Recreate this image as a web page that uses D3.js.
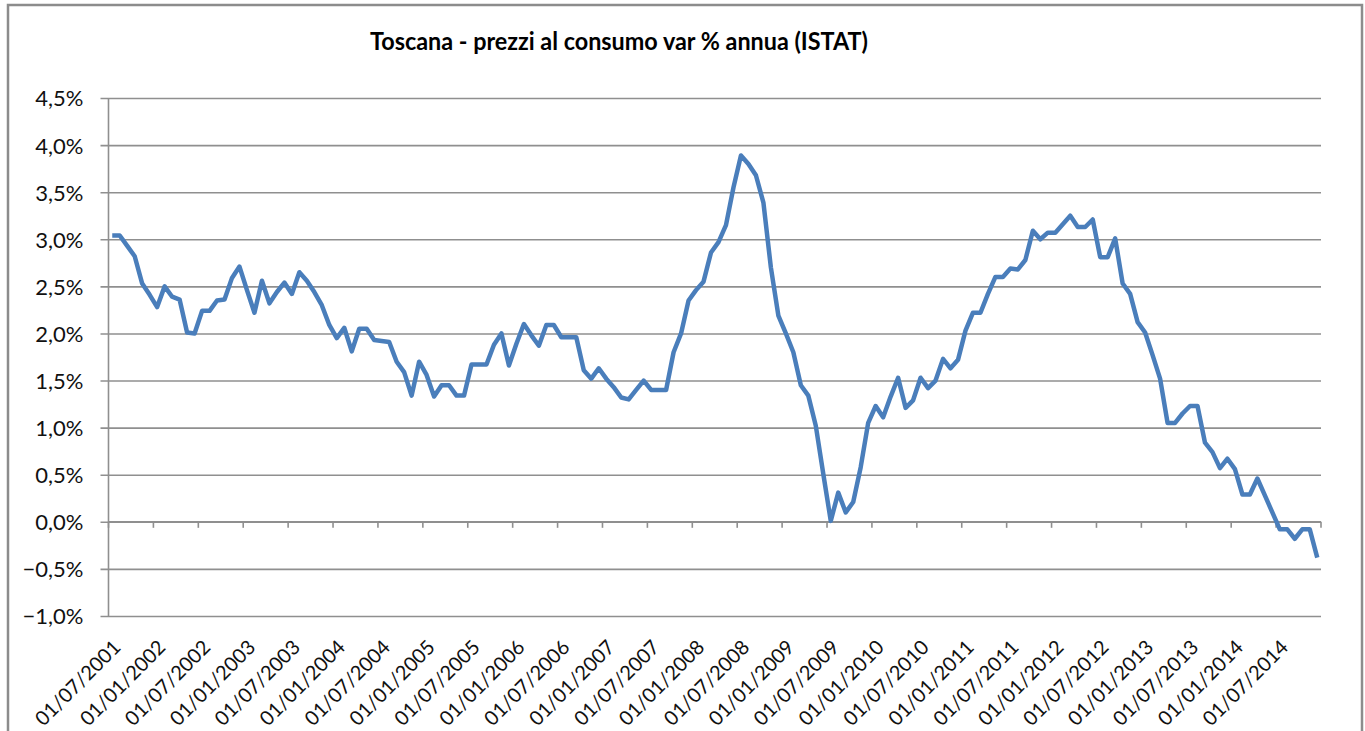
<!DOCTYPE html>
<html>
<head>
<meta charset="utf-8">
<script src="https://d3js.org/d3.v7.min.js"></script>
<style>
  html, body { margin: 0; padding: 0; background: #ffffff; }
  svg { display: block; }
</style>
</head>
<body>
<svg id="chart" width="1365" height="731"></svg>
<script>
// ---- DATA ----
const title = "Toscana  - prezzi al consumo var % annua (ISTAT)";

// monthly categories: 01/07/2001 ... 01/12/2014
const startYear = 2001, startMonth = 7, endYear = 2014, endMonth = 12;
const categories = [];
for (let y = startYear, m = startMonth; y < endYear || (y === endYear && m <= endMonth); ) {
  categories.push("01/" + String(m).padStart(2, "0") + "/" + y);
  m++; if (m > 12) { m = 1; y++; }
}

const tickLabels = [
  "01/07/2001","01/01/2002","01/07/2002","01/01/2003","01/07/2003","01/01/2004","01/07/2004",
  "01/01/2005","01/07/2005","01/01/2006","01/07/2006","01/01/2007","01/07/2007","01/01/2008",
  "01/07/2008","01/01/2009","01/07/2009","01/01/2010","01/07/2010","01/01/2011","01/07/2011",
  "01/01/2012","01/07/2012","01/01/2013","01/07/2013","01/01/2014","01/07/2014"
];

const values = [
  3.04, 3.04, 2.93, 2.82, 2.53, 2.41, 2.28, 2.50, 2.39, 2.36,
  2.01, 2.00, 2.24, 2.24, 2.35, 2.36, 2.59, 2.71, 2.46, 2.22,
  2.56, 2.32, 2.44, 2.54, 2.42, 2.65, 2.56, 2.44, 2.30, 2.09,
  1.95, 2.06, 1.81, 2.05, 2.05, 1.93, 1.92, 1.91, 1.70, 1.59,
  1.34, 1.70, 1.56, 1.33, 1.45, 1.45, 1.34, 1.34, 1.67, 1.67,
  1.67, 1.88, 2.00, 1.66, 1.89, 2.10, 1.98, 1.87, 2.09, 2.09,
  1.96, 1.96, 1.96, 1.61, 1.52, 1.63, 1.52, 1.43, 1.32, 1.30,
  1.40, 1.50, 1.40, 1.40, 1.40, 1.80, 2.00, 2.35, 2.46, 2.55,
  2.86, 2.97, 3.15, 3.55, 3.89, 3.80, 3.68, 3.39, 2.70, 2.19,
  2.00, 1.80, 1.45, 1.34, 1.02, 0.51, 0.01, 0.31, 0.10, 0.21,
  0.58, 1.05, 1.23, 1.11, 1.33, 1.53, 1.21, 1.29, 1.53, 1.42,
  1.50, 1.73, 1.63, 1.72, 2.03, 2.22, 2.22, 2.42, 2.60, 2.60,
  2.69, 2.68, 2.78, 3.09, 3.00, 3.07, 3.07, 3.16, 3.25, 3.13,
  3.13, 3.21, 2.81, 2.81, 3.01, 2.53, 2.42, 2.12, 2.01, 1.77,
  1.52, 1.05, 1.05, 1.15, 1.23, 1.23, 0.84, 0.74, 0.57, 0.67,
  0.56, 0.29, 0.29, 0.46, 0.28, 0.10, -0.08, -0.08, -0.18, -0.08,
  -0.08, -0.38
];

const yTicks = [-1.0, -0.5, 0.0, 0.5, 1.0, 1.5, 2.0, 2.5, 3.0, 3.5, 4.0, 4.5];

// ---- LAYOUT ----
const svg = d3.select("#chart");
const plot = { left: 108.5, right: 1321, top: 98, bottom: 616 };
const font = "Lato, 'Open Sans', sans-serif";

const x = d3.scaleBand().domain(categories).range([plot.left, plot.right]).paddingInner(0).paddingOuter(0);
const y = d3.scaleLinear().domain([-1, 4.5]).range([plot.bottom, plot.top]);
const cx = c => x(c) + x.bandwidth() / 2;

const itLocale = d3.formatLocale({ decimal: ",", thousands: ".", grouping: [3], currency: ["€", ""] });
const fmt = itLocale.format(".1f");

// outer chart frame
svg.append("rect")
  .attr("x", 8).attr("y", 5).attr("width", 1354).attr("height", 740)
  .attr("fill", "#ffffff").attr("stroke", "#8c8c8c").attr("stroke-width", 2.5);

// title
svg.append("text")
  .attr("x", 619).attr("y", 50)
  .attr("text-anchor", "middle")
  .attr("font-family", font).attr("font-weight", "bold").attr("font-size", 25)
  .attr("textLength", 498).attr("lengthAdjust", "spacingAndGlyphs")
  .attr("fill", "#000")
  .text(title);

// y axis with gridlines
const yAxis = d3.axisLeft(y)
  .tickValues(yTicks)
  .tickSize(-(plot.right - plot.left))
  .tickPadding(0)
  .tickFormat(d => fmt(d) + "%");

const gy = svg.append("g")
  .attr("transform", `translate(${plot.left},0)`)
  .call(yAxis);
gy.select(".domain").remove();
gy.selectAll(".tick line")
  .attr("x1", -8)
  .attr("stroke", "#8f8f8f").attr("stroke-width", 1.6);
gy.selectAll(".tick text")
  .attr("x", -25).attr("dy", "0.36em").attr("dx", 0)
  .attr("font-family", font).attr("font-size", 22).attr("fill", "#111");

// y axis line
svg.append("line")
  .attr("x1", plot.left).attr("x2", plot.left)
  .attr("y1", plot.top).attr("y2", plot.bottom)
  .attr("stroke", "#8f8f8f").attr("stroke-width", 1.6);

// x axis at zero with tick marks at category boundaries every 6 months
const y0 = y(0);
svg.append("line")
  .attr("x1", plot.left).attr("x2", plot.right)
  .attr("y1", y0).attr("y2", y0)
  .attr("stroke", "#8f8f8f").attr("stroke-width", 1.6);

const boundaries = tickLabels.map(c => x(c)).concat([plot.right]);
svg.append("g").selectAll("line")
  .data(boundaries)
  .join("line")
  .attr("x1", d => d).attr("x2", d => d)
  .attr("y1", y0).attr("y2", y0 + 6)
  .attr("stroke", "#8f8f8f").attr("stroke-width", 1.6);

// x labels (rotated)
svg.append("g").selectAll("text")
  .data(tickLabels)
  .join("text")
  .attr("transform", d => `translate(${cx(d) + 4},${643}) rotate(-45)`)
  .attr("text-anchor", "end")
  .attr("dominant-baseline", "central")
  .attr("font-family", font).attr("font-size", 20).attr("fill", "#111")
  .text(d => d);

// series line
const line = d3.line()
  .x((d, i) => cx(categories[i]))
  .y(d => y(d));

svg.append("path")
  .datum(values)
  .attr("d", line)
  .attr("fill", "none")
  .attr("stroke", "#4a7ebb")
  .attr("stroke-width", 4.5)
  .attr("stroke-linejoin", "round")
  .attr("stroke-linecap", "butt");
</script>
</body>
</html>
